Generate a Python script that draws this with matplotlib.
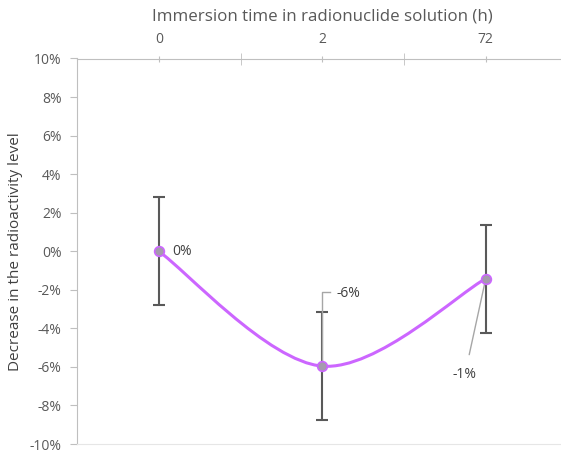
import matplotlib.pyplot as plt
from matplotlib.path import Path
from matplotlib.patches import PathPatch
from matplotlib.ticker import FixedLocator, FuncFormatter

# data
categories = ["0", "2", "72"]
decrease = [0.0, -5.96, -1.42]      # percent
error = [2.8, 2.8, 2.8]             # percent, symmetric
point_labels = ["0%", "-6%", "-1%"]

plt.rcParams['font.family'] = ['Open Sans', 'DejaVu Sans']

fig = plt.figure(figsize=(5.61, 4.53), dpi=100)
ax = fig.add_axes([77 / 561, 1 - 444 / 453, 3 * 163.5 / 561, (444 - 58.5) / 453])

xs = list(range(len(categories)))

# Excel-like smoothed line: cubic Bezier segments with Catmull-Rom control points
verts = [(xs[0], decrease[0])]
codes = [Path.MOVETO]
n = len(xs)
for i in range(n - 1):
    p0 = (xs[max(i - 1, 0)], decrease[max(i - 1, 0)])
    p1 = (xs[i], decrease[i])
    p2 = (xs[i + 1], decrease[i + 1])
    p3 = (xs[min(i + 2, n - 1)], decrease[min(i + 2, n - 1)])
    c1 = (p1[0] + (p2[0] - p0[0]) / 6, p1[1] + (p2[1] - p0[1]) / 6)
    c2 = (p2[0] - (p3[0] - p1[0]) / 6, p2[1] - (p3[1] - p1[1]) / 6)
    verts += [c1, c2, p2]
    codes += [Path.CURVE4] * 3
ax.add_patch(PathPatch(Path(verts, codes), facecolor='none', edgecolor='#CC66FF',
                       linewidth=2.2, zorder=2))

ax.errorbar(xs, decrease, yerr=error, fmt='none', ecolor='#595959', elinewidth=1.5,
            capsize=4, capthick=1.5, zorder=3)
ax.plot(xs, decrease, 'o', markersize=7, markerfacecolor='#A59AAE',
        markeredgecolor='#CC66FF', markeredgewidth=1.2, zorder=4)

# data labels
lbl_color = '#404040'
ax.annotate(point_labels[0], (xs[0], decrease[0]), xytext=(10, 0), textcoords='offset points',
            ha='left', va='center', fontsize=10, color=lbl_color)
ax.annotate(point_labels[1], (xs[1], decrease[1]), xytext=(10, 52), textcoords='offset points',
            ha='left', va='center', fontsize=10, color=lbl_color)
ax.plot([xs[1], xs[1], xs[1] + 0.045], [decrease[1], decrease[1] + 3.85, decrease[1] + 3.85],
        color='#A6A6A6', linewidth=1.0, zorder=3.5)
ax.annotate(point_labels[2], (xs[2], decrease[2]), xytext=(-15, -69), textcoords='offset points',
            ha='center', va='center', fontsize=10, color=lbl_color,
            arrowprops=dict(arrowstyle='-', color='#A6A6A6', linewidth=1.0,
                            shrinkA=7, shrinkB=0))

ax.set_xlim(-0.5, 2.5)
ax.set_ylim(-10, 10)

# axes styling
ax.spines['right'].set_visible(False)
ax.spines['left'].set_color('#BFBFBF')
ax.spines['top'].set_color('#BFBFBF')
ax.spines['bottom'].set_color('#E6E6E6')

ax.xaxis.tick_top()
ax.xaxis.set_label_position('top')
ax.set_xticks(xs)
ax.set_xticklabels(categories)
ax.xaxis.set_minor_locator(FixedLocator([0.5, 1.5]))
ax.tick_params(axis='x', which='major', direction='inout', length=5, color='#BFBFBF',
               labelsize=10, labelcolor='#595959', pad=6)
ax.tick_params(axis='x', which='minor', direction='inout', length=8, color='#BFBFBF')

ax.set_yticks(range(-10, 11, 2))
ax.yaxis.set_major_formatter(FuncFormatter(lambda v, p: f"{v:.0f}%"))
ax.tick_params(axis='y', direction='out', length=5, color='#BFBFBF',
               labelsize=10, labelcolor='#595959', pad=6)

ax.set_xlabel("Immersion time in radionuclide solution (h)", fontsize=12.2,
              color='#595959')
ax.set_ylabel("Decrease in the radioactivity level", fontsize=11,
              color='#404040')
ax_w = 3 * 163.5
ax.xaxis.set_label_coords((322 - 77) / ax_w, 1 + (58.5 - 21) / 385.5)
ax.yaxis.set_label_coords(-(77 - 23) / ax_w, 0.5)

fig.savefig("out.png", dpi=100)
